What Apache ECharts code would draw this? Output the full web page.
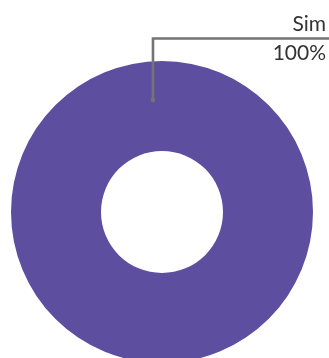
<!DOCTYPE html>
<html><head><meta charset="utf-8">
<script src="https://cdn.jsdelivr.net/npm/echarts@6/dist/echarts.min.js"></script>
<style>html,body{margin:0;padding:0;background:#fff}#c{width:329px;height:358px}</style>
</head><body><div id="c"></div>
<script>
const categories = ['Sim'];
const values = [100];
const percentLabels = ['100%'];

const CX = 162, CY = 212, R_IN = 61, R_OUT = 151;
const anchorAngle = 94.6 * Math.PI / 180, anchorR = 112.4;
const ax = CX + anchorR * Math.cos(anchorAngle);
const ay = CY - anchorR * Math.sin(anchorAngle);
const elbowY = 38.5;

const chart = echarts.init(document.getElementById('c'), null, {renderer: 'canvas'});
chart.setOption({
  animation: false,
  backgroundColor: '#fff',
  textStyle: {fontFamily: 'Lato'},
  graphic: [{
    type: 'polyline', shape: {points: [[ax, ay], [ax, elbowY], [329, elbowY]]},
    style: {stroke: '#747474', lineWidth: 2.6, fill: null}, z: 100
  }, {
    type: 'circle', shape: {cx: ax, cy: ay, r: 2.4}, style: {fill: '#747474'}, z: 101
  }],
  series: [{
    type: 'pie',
    center: [CX, CY],
    radius: [R_IN, R_OUT],
    startAngle: 90,
    silent: true,
    itemStyle: {color: '#5e4ea0'},
    data: categories.map((c, i) => ({name: c, value: values[i]})),
    label: {
      show: true,
      position: 'outside',
      formatter: (p) => '{a|' + p.name + '}\n{b|' + percentLabels[p.dataIndex] + '}',
      rich: {
        a: {fontFamily: 'Lato', fontSize: 21, color: '#333', lineHeight: 29, align: 'right'},
        b: {fontFamily: 'Lato', fontSize: 21, color: '#333', lineHeight: 29, align: 'right'}
      }
    },
    labelLine: {show: false},
    labelLayout: function (params) {
      return {x: 326, y: elbowY, align: 'right', verticalAlign: 'middle'};
    }
  }]
});
</script></body></html>
